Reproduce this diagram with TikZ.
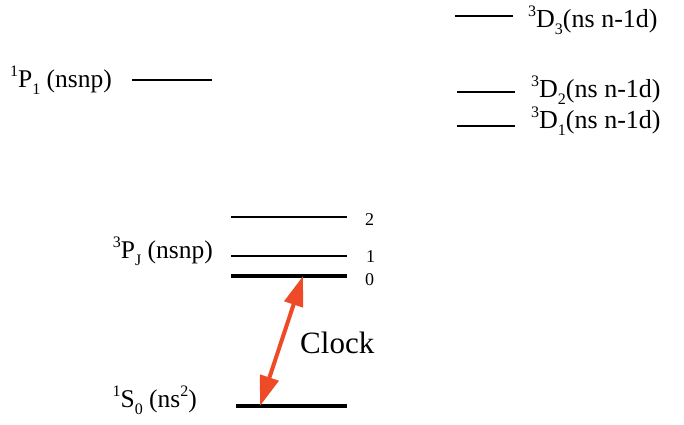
\documentclass[tikz,border=0pt]{standalone}
\usepackage{fontspec}
\setmainfont{Liberation Serif}
\usetikzlibrary{positioning, arrows.meta}
\definecolor{Cclk}{RGB}{238,74,40}
\newcommand{\upi}[1]{\raisebox{0.40em}{\fontsize{16}{16}\selectfont #1}}
\newcommand{\loi}[1]{\raisebox{-0.28em}{\fontsize{16}{16}\selectfont #1}}
\tikzset{
  lvl/.style={line width=2.6pt},
  gnd/.style={line width=4.6pt},
  lab/.style={font=\fontsize{25.5}{25.5}\selectfont, inner sep=0pt},
  dlab/.style={font=\fontsize{26}{26}\selectfont, inner sep=0pt, anchor=base west},
  jlab/.style={font=\fontsize{18}{18}\selectfont, inner sep=0pt, anchor=base west},
  clk/.style={{Triangle[length=30pt,width=19pt]}-{Triangle[length=30pt,width=19pt]},
    line width=4pt, color=Cclk}
}

\begin{document}
\begin{tikzpicture}[x=1pt, y=-1pt]
\useasboundingbox (0,0) rectangle (684,424);

% ─────────────────────────────────────────────
%  singlet P and triplet D levels
% ─────────────────────────────────────────────
\coordinate (P1a) at (132,80);  \coordinate (P1b) at (212,80);
\coordinate (D3a) at (455,16);  \coordinate (D3b) at (513,16);
\coordinate (D2a) at (457,92);  \coordinate (D2b) at (515,92);
\coordinate (D1a) at (457,126); \coordinate (D1b) at (515,126);

\draw[lvl] (P1a) -- (P1b);
\draw[lvl] (D3a) -- (D3b);
\draw[lvl] (D2a) -- (D2b);
\draw[lvl] (D1a) -- (D1b);

\node[lab, anchor=base east] (p1lab) at ([shift={(-20,7)}]P1a)
  {\upi{1}P\loi{1} (nsnp)};
\node[dlab] (d3lab) at ([shift={(15,11)}]D3b) {\upi{3}D\loi{3}(ns n-1d)};
\node[dlab] (d2lab) at ([shift={(16,5)}]D2b)  {\upi{3}D\loi{2}(ns n-1d)};
\node[dlab] (d1lab) at ([shift={(16,2)}]D1b)  {\upi{3}D\loi{1}(ns n-1d)};

% ─────────────────────────────────────────────
%  3P_J fine structure and ground state
% ─────────────────────────────────────────────
\coordinate (P2a) at (231,217); \coordinate (P2b) at (347,217);
\coordinate (Pja) at (231,256); \coordinate (Pjb) at (347,256);
\coordinate (P0a) at (231,276); \coordinate (P0b) at (347,276);
\coordinate (S0a) at (236,406); \coordinate (S0b) at (347,406);

\draw[lvl] (P2a) -- (P2b);
\draw[lvl] (Pja) -- (Pjb);
\draw[gnd] (P0a) -- (P0b);
\draw[gnd] (S0a) -- (S0b);

\node[jlab] (j2) at ([shift={(18,8)}]P2b) {2};
\node[jlab] (j1) at ([shift={(19,6)}]Pjb) {1};
\node[jlab] (j0) at ([shift={(18,9)}]P0b) {0};

\node[lab, anchor=base east] (pjlab) at ([shift={(-18,2)}]Pja)
  {\upi{3}P\loi{J} (nsnp)};
\node[lab, anchor=base east] (s0lab) at ([shift={(-39,1)}]S0a)
  {\upi{1}S\loi{0} (ns\upi{2})};

% ─────────────────────────────────────────────
%  clock transition
% ─────────────────────────────────────────────
\coordinate (clkup) at (303,276);
\coordinate (clkdn) at (260,406);
\draw[clk] (clkdn) -- (clkup);
\node[font=\fontsize{31}{31}\selectfont, inner sep=0pt, anchor=base west]
  (clock) at (300,353) {Clock};

\end{tikzpicture}
\end{document}
